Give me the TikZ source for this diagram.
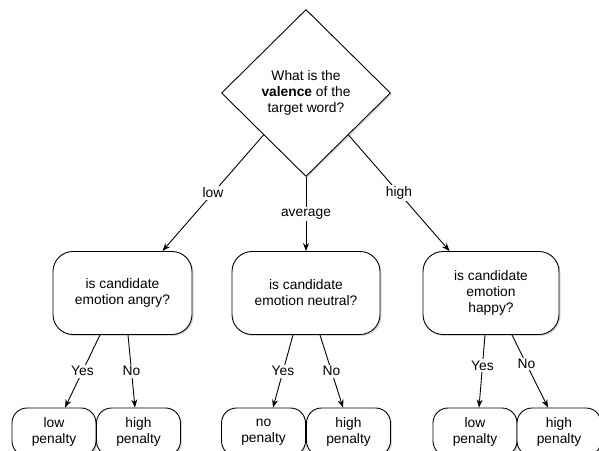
\documentclass[tikz,border=0pt]{standalone}
\usepackage{fontspec}
\setmainfont{Liberation Sans}
\usetikzlibrary{shapes.geometric, arrows.meta, shadows}
\tikzstyle{dblock} = [diamond, draw, fill=white, aspect=1, line width=0.9pt,
minimum width=169pt, minimum height=167pt, inner sep=0pt, align=center,
drop shadow={shadow xshift=1.5pt, shadow yshift=-1.5pt, opacity=0.3}]
\tikzstyle{qblock} = [rectangle, draw, fill=white, line width=0.9pt,
rounded corners=20pt, minimum height=83pt, align=center,
drop shadow={shadow xshift=1.5pt, shadow yshift=-1.5pt, opacity=0.3}]
\tikzstyle{pblock} = [rectangle, draw, fill=white, line width=0.9pt,
rounded corners=15pt, minimum width=84pt, minimum height=48pt, align=center,
drop shadow={shadow xshift=1.5pt, shadow yshift=-1.5pt, opacity=0.3}]
\tikzstyle{arrow} = [line width=0.9pt, -{Stealth[length=8pt,width=6pt]}]
\tikzstyle{lbl} = [fill=white, inner sep=1.5pt]

\begin{document}
\begin{tikzpicture}[x=1pt, y=1pt, node distance=200pt, font=\fontsize{13.8}{16}\selectfont]
	\useasboundingbox (0,0) rectangle (599,-450);
	\node (Valence) [dblock] at (306,-93) {What is the\\\textbf{valence} of the\\target word?};
	\node (Neutral) [qblock, minimum width=148pt, below of=Valence] {is candidate\\emotion neutral?};
	\node (Angry) [qblock, minimum width=139pt, left of=Neutral, xshift=16.5pt] {is candidate\\emotion angry?};
	\node (Happy) [qblock, minimum width=136pt, right of=Neutral, xshift=-15pt] {is candidate\\emotion\\happy?};
	\node (AngryYes) [pblock, below of=Angry, node distance=139pt, xshift=-68.5pt] {low\\penalty};
	\node (AngryNo) [pblock, below of=Angry, node distance=139pt, xshift=16pt] {high\\penalty};
	\node (NeutralYes) [pblock, below of=Neutral, node distance=139pt, xshift=-42.5pt] {no\\penalty};
	\node (NeutralNo) [pblock, below of=Neutral, node distance=139pt, xshift=42.5pt] {high\\penalty};
	\node (HappyYes) [pblock, below of=Happy, node distance=139pt, xshift=-16pt] {low\\penalty};
	\node (HappyNo) [pblock, below of=Happy, node distance=139pt, xshift=68pt] {high\\penalty};

	\draw [arrow] (Valence.south west) -- node[lbl] {low} ([xshift=-30pt]Angry.north east);
	\draw [arrow] (Valence.south) -- node[lbl] {average} (Neutral.north);
	\draw [arrow] (Valence.south east) -- node[lbl] {high} ([xshift=27pt]Happy.north west);
	\draw [arrow] ([xshift=-22.5pt]Angry.south) -- node[lbl] {Yes} ([xshift=11pt]AngryYes.north);
	\draw [arrow] ([xshift=5.5pt]Angry.south) -- node[lbl] {No} ([xshift=-3.5pt]AngryNo.north);
	\draw [arrow] ([xshift=-13pt]Neutral.south) -- node[lbl] {Yes} ([xshift=9.5pt]NeutralYes.north);
	\draw [arrow] ([xshift=14pt]Neutral.south) -- node[lbl] {No} ([xshift=-5.5pt]NeutralNo.north);
	\draw [arrow] ([xshift=-6pt]Happy.south) -- node[lbl, pos=0.42] {Yes} ([xshift=4pt]HappyYes.north);
	\draw [arrow] ([xshift=21pt]Happy.south) -- node[lbl, pos=0.4] {No} ([xshift=-11pt]HappyNo.north);
\end{tikzpicture}
\end{document}
